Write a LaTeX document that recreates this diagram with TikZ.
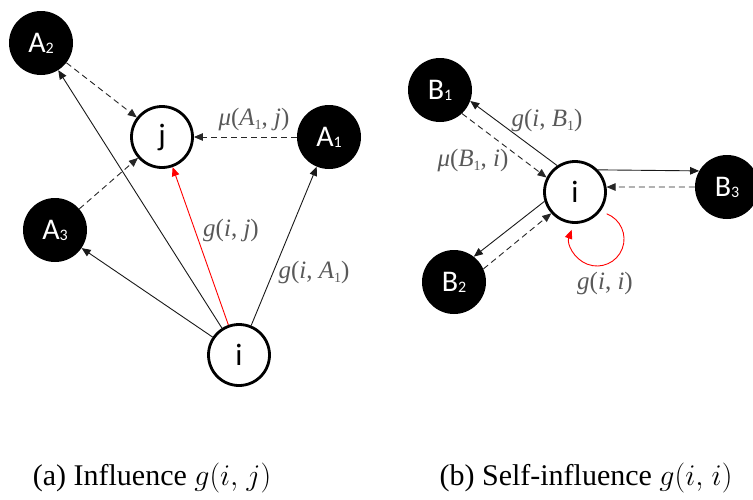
\RequirePackage{fix-cm}
\documentclass[tikz,border=0pt]{standalone}
\usepackage{fontspec}
\setmainfont{Liberation Serif}
\newfontfamily\nodefont{Carlito}
\usetikzlibrary{arrows.meta,calc}
\tikzset{
  blk/.style={circle,fill=black,minimum size=64pt,inner sep=0pt,text=white,font=\nodefont\fontsize{30}{30}\selectfont},
  wht/.style={circle,draw=black,line width=2.8pt,fill=white,minimum size=61pt,inner sep=0pt,font=\nodefont\fontsize{31}{31}\selectfont},
  arr/.style={line width=0.9pt,draw=black!90,-{Triangle[length=9pt,width=7.5pt]}},
  darr/.style={arr,draw=black!85,dash pattern=on 6pt off 4pt},
  redarr/.style={arr,draw=red,-{Triangle[length=9pt,width=7.5pt]}},
  lbl/.style={text=black!65,font=\fontsize{25}{25}\selectfont,inner sep=0pt},
  captxt/.style={font=\fontsize{30}{34}\selectfont,inner sep=0pt}
}
\newcommand{\subsc}[1]{{\fontsize{16}{16}\selectfont\raisebox{-1pt}{#1}}}
\newcommand{\lsub}[1]{\raisebox{-4pt}{\fontsize{14}{14}\selectfont #1}}
\begin{document}
\begin{tikzpicture}[x=1pt,y=1pt]
\useasboundingbox (0,0) rectangle (753,-499);
% panel (a)
\node[blk] (A2) at (41,-43) {A\subsc{2}};
\node[blk] (A1) at (329,-137) {A\subsc{1}};
\node[blk] (A3) at (55,-230) {A\subsc{3}};
\node[wht] (j) at (162,-137) {j};
\node[wht] (iA) at (239,-355) {i};
\draw[arr] (iA) -- (A2);
\draw[arr] (iA) -- (A3);
\draw[arr] (iA) -- (A1);
\draw[redarr] (iA) -- (j);
\draw[darr] (A2) -- (j);
\draw[darr] (A3) -- (j);
\draw[darr] (A1) -- (j);
\node[lbl] (l1) at (254,-119) {\textit{μ}(\textit{A}\lsub{1}, \textit{j})};
\node[lbl] (l2) at (231,-230) {\textit{g}(\textit{i}, \textit{j})};
\node[lbl] (l3) at (314,-272) {\textit{g}(\textit{i}, \textit{A}\lsub{1})};
% panel (b)
\node[blk] (B1) at (440,-90) {B\subsc{1}};
\node[blk] (B2) at (454,-282) {B\subsc{2}};
\node[blk] (B3) at (727,-187) {B\subsc{3}};
\node[wht] (iB) at (575,-192) {i};
\draw[arr] (iB.124) -- (B1.-20);
\draw[darr] (B1.-47) -- (iB.153);
\draw[arr] (iB.44) -- (B3.150);
\draw[darr] (B3.180) -- (iB.9);
\draw[arr] (iB.197) -- (B2.52);
\draw[darr] (B2.24) -- (iB.222);
\coordinate (ls) at ($(iB.center)+(31.7,-21.8)$);
\draw[redarr] (ls) arc[start angle=69,end angle=-200,radius=27];
\node[lbl] (l4) at (547,-120) {\textit{g}(\textit{i}, \textit{B}\lsub{1})};
\node[lbl] (l5) at (473,-160) {\textit{μ}(\textit{B}\lsub{1}, \textit{i})};
\node[lbl] (l6) at (605,-283) {\textit{g}(\textit{i}, \textit{i})};
% captions
\node[captxt] (ca) at (152,-478) {(a) Influence $g(i,\mkern2mu j)$};
\node[captxt] (cb) at (586,-478) {(b) Self-influence $g(i,\mkern2mu i)$};
\end{tikzpicture}
\end{document}
